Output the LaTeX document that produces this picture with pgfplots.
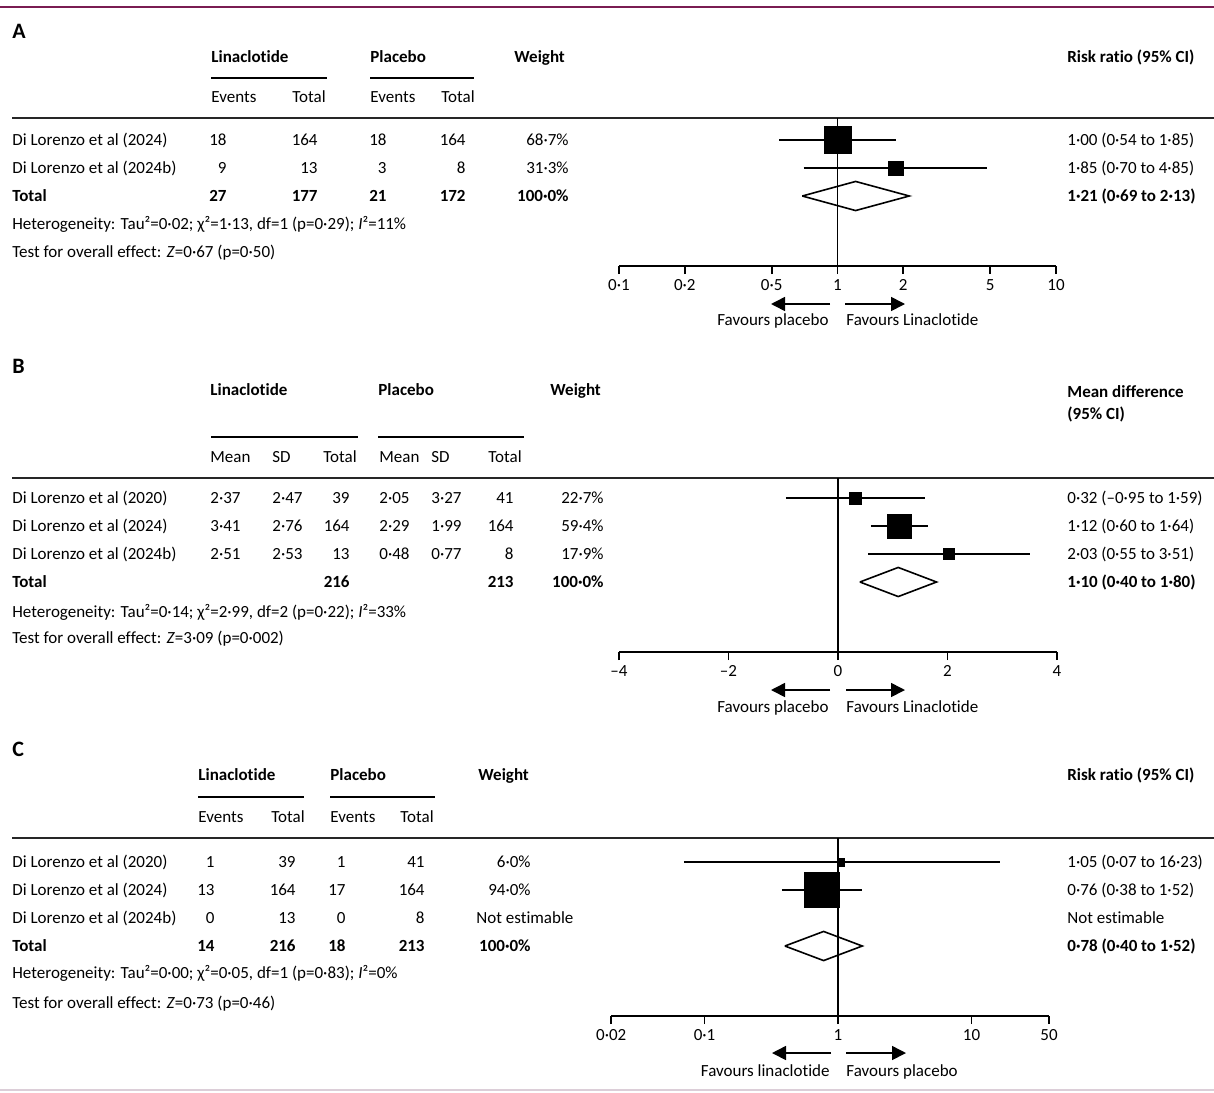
\documentclass[border=0pt]{standalone}
\usepackage{fontspec}
\setmainfont{Carlito}[Ligatures=NoCommon]
\usepackage{pgfplots}
\pgfplotsset{compat=1.18}
\usetikzlibrary{arrows.meta}
\definecolor{lancet}{RGB}{122,28,82}
\definecolor{botline}{RGB}{220,206,216}
\newcommand{\fs}{\fontsize{8.5}{10}\selectfont}
\newcommand{\TL}[3]{\node[anchor=base west] at (#1,#2) {#3};}
\newcommand{\TR}[3]{\node[anchor=base east] at (#1,#2) {#3};}
\pgfplotsset{
  forest/.style={scale only axis, axis x line=bottom, axis y line=none,
    axis line style={-, line width=0.8pt, black},
    tick align=outside, major tick length=4pt,
    xtick style={line width=0.8pt, black},
    ticklabel style={font=\fs, yshift=0.6pt},
    clip=false, anchor=south west},
  ci/.style={black, line width=0.8pt, no marks},
  box/.style={only marks, mark=square*, mark options={fill=black, draw=black, line width=0.3pt}},
  dia/.style={black, line width=0.8pt, no marks, line join=miter},
}
\begin{document}
\begin{tikzpicture}
\begin{scope}[x=0.5pt,y=-0.5pt, every node/.style={inner sep=0pt, font=\fs}]
\useasboundingbox (0,0) rectangle (1214,1092);
\draw[lancet, line width=0.6pt] (0,7) -- (1214,7);
\draw[botline, line width=1pt] (0,1090) -- (1214,1090);
% ================= Panel A =================
\node[anchor=base west, font=\fontsize{11}{13}\selectfont\bfseries] at (12,39) {A};
\TL{211}{62}{\textbf{Linaclotide}}
\TL{370}{62}{\textbf{Placebo}}
\TL{514}{62}{\textbf{Weight}}
\TL{1067}{62}{\textbf{Risk ratio (95\% CI)}}
\draw[line width=0.7pt] (211,78) -- (327,78);
\draw[line width=0.7pt] (370,78) -- (474,78);
\TL{211}{102}{Events}\TL{292}{102}{Total}\TL{370}{102}{Events}\TL{441}{102}{Total}
\draw[black!85, line width=0.9pt] (12,118) -- (1214,118);
\TL{12}{145}{Di Lorenzo et al (2024)}
\TR{227}{145}{18}\TR{318}{145}{164}\TR{387}{145}{18}\TR{466}{145}{164}\TR{569}{145}{68·7\%}
\TL{1067}{145}{1·00 (0·54 to 1·85)}
\TL{12}{173}{Di Lorenzo et al (2024b)}
\TR{227}{173}{9}\TR{318}{173}{13}\TR{387}{173}{3}\TR{466}{173}{8}\TR{569}{173}{31·3\%}
\TL{1067}{173}{1·85 (0·70 to 4·85)}
\TL{12}{201}{\textbf{Total}}
\TR{227}{201}{\textbf{27}}\TR{318}{201}{\textbf{177}}\TR{387}{201}{\textbf{21}}\TR{466}{201}{\textbf{172}}\TR{569}{201}{\textbf{100·0\%}}
\TL{1067}{201}{\textbf{1·21 (0·69 to 2·13)}}
\TL{12}{229}{Heterogeneity: Tau²=0·02; χ²=1·13, df=1 (p=0·29); \textit{I}²=11\%}
\TL{12}{257}{Test for overall effect: \textit{Z}=0·67 (p=0·50)}
\draw[line width=0.8pt, -{Triangle[length=7pt,width=7pt]}] (830,304) -- (771,304);
\draw[line width=0.8pt, -{Triangle[length=7pt,width=7pt]}] (845,304) -- (905,304);
\TR{829}{325}{Favours placebo}
\TL{846}{325}{Favours Linaclotide}
% ================= Panel B =================
\node[anchor=base west, font=\fontsize{11}{13}\selectfont\bfseries] at (12,373) {B};
\TL{210}{395}{\textbf{Linaclotide}}
\TL{378}{395}{\textbf{Placebo}}
\TL{550}{395}{\textbf{Weight}}
\TL{1067}{397}{\textbf{Mean difference}}
\TL{1067}{419}{\textbf{(95\% CI)}}
\draw[line width=0.7pt] (211,437) -- (358,437);
\draw[line width=0.7pt] (378,437) -- (524,437);
\TL{210}{462}{Mean}\TL{272}{462}{SD}\TL{323}{462}{Total}\TL{379}{462}{Mean}\TL{431}{462}{SD}\TL{488}{462}{Total}
\draw[black!85, line width=0.9pt] (12,478) -- (1214,478);
\TL{12}{503}{Di Lorenzo et al (2020)}
\TL{210}{503}{2·37}\TL{272}{503}{2·47}\TR{350}{503}{39}\TL{379}{503}{2·05}\TL{431}{503}{3·27}\TR{514}{503}{41}\TR{604}{503}{22·7\%}
\TL{1067}{503}{0·32 (–0·95 to 1·59)}
\TL{12}{531}{Di Lorenzo et al (2024)}
\TL{210}{531}{3·41}\TL{272}{531}{2·76}\TR{350}{531}{164}\TL{379}{531}{2·29}\TL{431}{531}{1·99}\TR{514}{531}{164}\TR{604}{531}{59·4\%}
\TL{1067}{531}{1·12 (0·60 to 1·64)}
\TL{12}{559}{Di Lorenzo et al (2024b)}
\TL{210}{559}{2·51}\TL{272}{559}{2·53}\TR{350}{559}{13}\TL{379}{559}{0·48}\TL{431}{559}{0·77}\TR{514}{559}{8}\TR{604}{559}{17·9\%}
\TL{1067}{559}{2·03 (0·55 to 3·51)}
\TL{12}{587}{\textbf{Total}}
\TR{350}{587}{\textbf{216}}\TR{514}{587}{\textbf{213}}\TR{604}{587}{\textbf{100·0\%}}
\TL{1067}{587}{\textbf{1·10 (0·40 to 1·80)}}
\TL{12}{617}{Heterogeneity: Tau²=0·14; χ²=2·99, df=2 (p=0·22); \textit{I}²=33\%}
\TL{12}{643}{Test for overall effect: \textit{Z}=3·09 (p=0·002)}
\draw[line width=0.8pt, -{Triangle[length=7pt,width=7pt]}] (830,690) -- (771,690);
\draw[line width=0.8pt, -{Triangle[length=7pt,width=7pt]}] (846,690) -- (905,690);
\TR{829}{712}{Favours placebo}
\TL{846}{712}{Favours Linaclotide}
% ================= Panel C =================
\node[anchor=base west, font=\fontsize{11}{13}\selectfont\bfseries] at (12,756) {C};
\TL{198}{780}{\textbf{Linaclotide}}
\TL{330}{780}{\textbf{Placebo}}
\TL{478}{780}{\textbf{Weight}}
\TL{1067}{780}{\textbf{Risk ratio (95\% CI)}}
\draw[line width=0.7pt] (198,797) -- (304,797);
\draw[line width=0.7pt] (330,797) -- (435,797);
\TL{198}{822}{Events}\TL{271}{822}{Total}\TL{330}{822}{Events}\TL{400}{822}{Total}
\draw[black!85, line width=0.9pt] (12,838) -- (1214,838);
\TL{12}{867}{Di Lorenzo et al (2020)}
\TR{215}{867}{1}\TR{296}{867}{39}\TR{346}{867}{1}\TR{425}{867}{41}\TR{531}{867}{6·0\%}
\TL{1067}{867}{1·05 (0·07 to 16·23)}
\TL{12}{895}{Di Lorenzo et al (2024)}
\TR{215}{895}{13}\TR{296}{895}{164}\TR{346}{895}{17}\TR{425}{895}{164}\TR{531}{895}{94·0\%}
\TL{1067}{895}{0·76 (0·38 to 1·52)}
\TL{12}{923}{Di Lorenzo et al (2024b)}
\TR{215}{923}{0}\TR{296}{923}{13}\TR{346}{923}{0}\TR{425}{923}{8}\TL{476}{923}{Not estimable}
\TL{1067}{923}{Not estimable}
\TL{12}{951}{\textbf{Total}}
\TR{215}{951}{\textbf{14}}\TR{296}{951}{\textbf{216}}\TR{346}{951}{\textbf{18}}\TR{425}{951}{\textbf{213}}\TR{531}{951}{\textbf{100·0\%}}
\TL{1067}{951}{\textbf{0·78 (0·40 to 1·52)}}
\TL{12}{978}{Heterogeneity: Tau²=0·00; χ²=0·05, df=1 (p=0·83); \textit{I}²=0\%}
\TL{12}{1008}{Test for overall effect: \textit{Z}=0·73 (p=0·46)}
\draw[line width=0.8pt, -{Triangle[length=7pt,width=7pt]}] (831,1053) -- (772,1053);
\draw[line width=0.8pt, -{Triangle[length=7pt,width=7pt]}] (846,1053) -- (906,1053);
\TR{830}{1076}{Favours linaclotide}
\TL{846}{1076}{Favours placebo}
\end{scope}
% ---------- Axis A ----------
\begin{axis}[forest, at={(309.5pt,-133pt)}, width=218.5pt, height=74pt,
  xmode=log, xmin=0.1, xmax=10, ymin=0, ymax=5.286,
  xtick={0.1,0.2,0.5,1,2,5,10}, xticklabels={0·1,0·2,0·5,1,2,5,10}]
\addplot[ci] coordinates {(1,0) (1,5.286)};
\addplot[ci] coordinates {(0.54,4.5) (1.85,4.5)};
\addplot[ci] coordinates {(0.70,3.5) (4.85,3.5)};
\addplot[box, mark size=6.8pt] coordinates {(1.00,4.5)};
\addplot[box, mark size=3.6pt] coordinates {(1.85,3.5)};
\addplot[dia] coordinates {(0.69,2.5) (1.21,3.02) (2.13,2.5) (1.21,1.98) (0.69,2.5)};
\end{axis}
% ---------- Axis B ----------
\begin{axis}[forest, at={(309.5pt,-326pt)}, width=219pt, height=87pt,
  xmin=-4, xmax=4, ymin=0, ymax=6.214,
  xtick={-4,-2,0,2,4}, xticklabels={–4,–2,0,2,4}]
\addplot[ci] coordinates {(0,0) (0,6.214)};
\addplot[ci] coordinates {(-0.95,5.5) (1.59,5.5)};
\addplot[ci] coordinates {(0.60,4.5) (1.64,4.5)};
\addplot[ci] coordinates {(0.55,3.5) (3.51,3.5)};
\addplot[box, mark size=2.9pt] coordinates {(0.32,5.5)};
\addplot[box, mark size=6.1pt] coordinates {(1.12,4.5)};
\addplot[box, mark size=2.7pt] coordinates {(2.03,3.5)};
\addplot[dia] coordinates {(0.40,2.5) (1.10,3.02) (1.80,2.5) (1.10,1.98) (0.40,2.5)};
\end{axis}
% ---------- Axis C ----------
\begin{axis}[forest, at={(305.6pt,-508pt)}, width=218.9pt, height=89pt,
  xmode=log, xmin=0.02, xmax=38.07, ymin=0, ymax=6.357,
  xtick={0.02,0.1,1,10,38.07}, xticklabels={0·02,0·1,1,10,50}]
\addplot[ci] coordinates {(1,0) (1,6.357)};
\addplot[ci] coordinates {(0.07,5.5) (16.23,5.5)};
\addplot[ci] coordinates {(0.38,4.5) (1.52,4.5)};
\addplot[box, mark size=1.9pt] coordinates {(1.05,5.5)};
\addplot[box, mark size=8.8pt] coordinates {(0.76,4.5)};
\addplot[dia] coordinates {(0.40,2.5) (0.78,3.02) (1.52,2.5) (0.78,1.98) (0.40,2.5)};
\end{axis}
\end{tikzpicture}
\end{document}
